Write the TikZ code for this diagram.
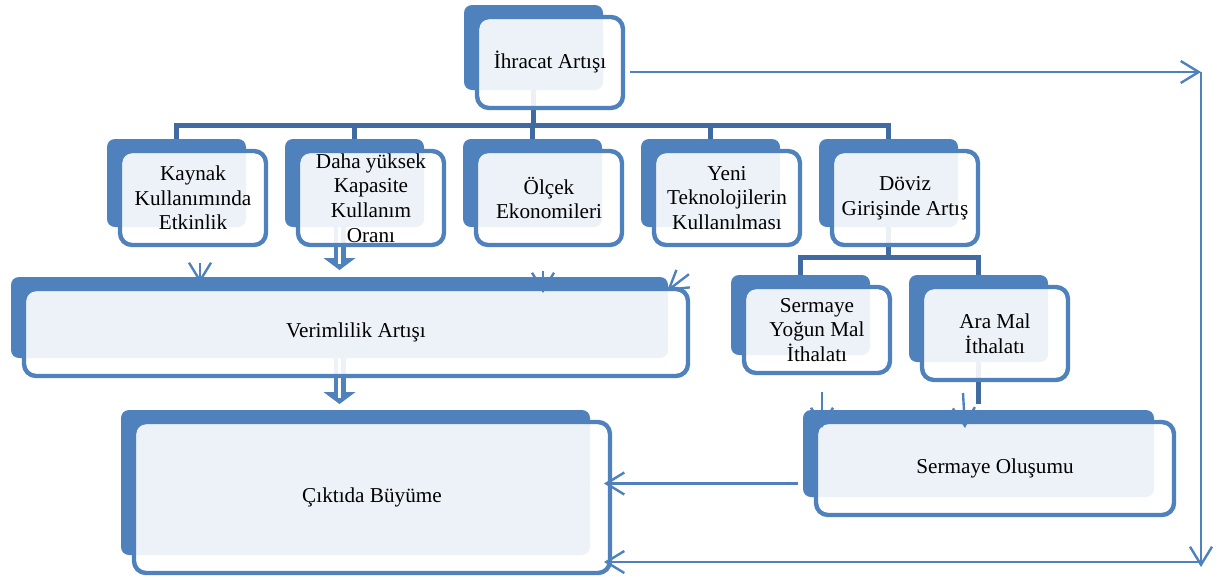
\documentclass[tikz,border=0pt]{standalone}
\usepackage{fontspec}
\setmainfont{Liberation Serif}
\usetikzlibrary{arrows.meta,calc,chains,positioning,fit,backgrounds}

\definecolor{boxblue}{RGB}{79,129,189}
\definecolor{treeblue}{RGB}{65,106,160}

\begin{document}
\begin{tikzpicture}[x=0.5pt,y=-0.5pt,
	front/.style={draw=boxblue, line width=2.2pt, fill=white, fill opacity=0.9,
		text opacity=1, rounded corners=6pt, align=center, inner sep=0pt,
		outer sep=0pt, font=\fontsize{10.6}{12.3}\selectfont},
	row/.style={front, on chain, minimum width=73pt, minimum height=47pt},
	back/.style={fill=boxblue, rounded corners=4pt, inner sep=0pt, outer sep=0pt},
	tree/.style={draw=treeblue, line width=2.5pt},
	arr/.style={draw=boxblue, line width=1.2pt, -{Straight Barb[length=9pt,width=11pt]}},
	dbl/.style={draw=boxblue, line width=6pt, -{Triangle[width=16pt,length=6pt,line width=0pt 0 0]},
		postaction={draw=white, line width=1.5pt, -, shorten >=3pt}},
	node distance=16pt, start chain=going right]

\useasboundingbox (0,0) rectangle (1221,579);

\node[front, minimum width=73pt, minimum height=45.5pt] (ihr) at (550,62.5) {İhracat Artışı};

\node[row] (kay) at (193,198) {Kaynak\\Kullanımında\\Etkinlik};
\node[row] (dah) {Daha yüksek\\Kapasite\\Kullanım\\Oranı};
\node[row] (olc) {Ölçek\\Ekonomileri};
\node[row] (yen) {Yeni\\Teknolojilerin\\Kullanılması};
\node[row] (dov) {Döviz\\Girişinde Artış};

\node[front, minimum width=332pt, minimum height=43.5pt] (ver) at (356,332.5) {Verimlilik Artışı};
\node[front, minimum width=238pt, minimum height=75.5pt] (cik) at (372,497.5) {Çıktıda Büyüme};
\node[front, minimum width=73pt, minimum height=43pt] (sy) at (817,330) {Sermaye\\Yoğun Mal\\İthalatı};
\node[front, minimum width=73pt, minimum height=46.5pt] (ara) at (995,333.5) {Ara Mal\\İthalatı};
\node[front, minimum width=179pt, minimum height=46.5pt] (so) at (995,468.5) {Sermaye Oluşumu};

\begin{pgfonlayer}{background}
% dark boxes behind
\foreach \n in {ihr,kay,dah,olc,yen,dov,ver,cik,sy,ara,so}
	\node[back, fit={($(\n.north west)+(-13,-12)$) ($(\n.south east)+(-20,-18)$)}] (back-\n) {};
% trees
\foreach \n in {kay,dah,olc,yen,dov}
	\draw[tree] (back-ihr.south) -- ++(0,35) -| (back-\n.north);
\foreach \n in {sy,ara}
	\draw[tree] (back-dov.south) -- ++(0,30) -| (back-\n.north);
\draw[tree] (back-ara.south) -- ++(0,42);
% wide arrows
\draw[dbl] (back-ver.north |- back-dah.south) -- ($(back-ver.north)+(0,-7)$);
\draw[dbl] (back-ver.south) -- ($(back-ver.south |- back-cik.north)+(0,-6)$);
\end{pgfonlayer}

\coordinate (ne) at (1201,72);
\coordinate (se) at (1201,562);
\draw[arr] ($(ihr.east |- ne)+(7,0)$) -- (ne);
\draw[arr] (ne) -- ($(se)+(0,5)$);
\draw[arr] (se) -- ($(se -| cik.east)+(-6,0)$);
\draw[arr] ($(back-so.west)+(-5,30)$) coordinate (soL) -- ($(soL -| cik.east)+(-6,0)$);

\draw[arr, shorten <=9pt] ($(kay.south)+(7,0)$) -- ($(kay.south |- ver.north)+(7,-6)$);
\draw[arr, shorten <=13pt] ($(olc.south)+(-6,0)$) -- ($(olc.south |- ver.north)+(-6,4)$);
\draw[arr, shorten <=24pt] (yen.south) -- ($(ver.north east)+(-21,2)$);
\draw[arr] ($(sy.south)+(5,19)$) -- ($(sy.south |- so.north)+(5,6)$);
\draw[arr] ($(ara.south)+(-32,13)$) -- ($(ara.south |- so.north)+(-30,6)$);
\end{tikzpicture}
\end{document}
